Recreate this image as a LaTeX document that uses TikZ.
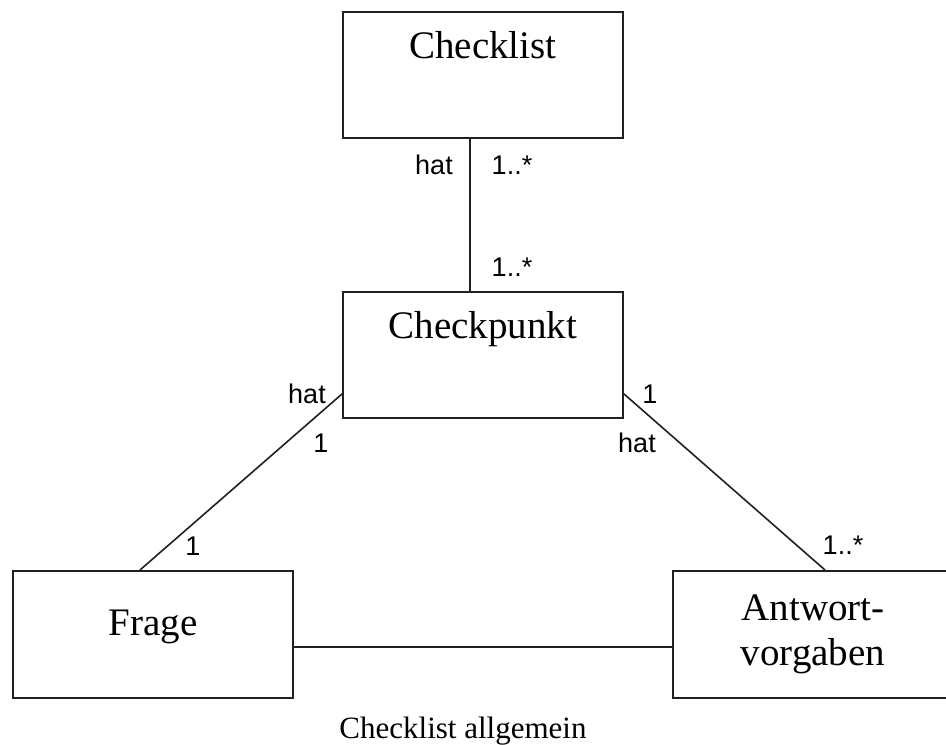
\documentclass[tikz,border=0pt]{standalone}
\usepackage{fontspec}
\setmainfont{Liberation Serif}
\newfontfamily\lblfont{Liberation Sans}
\usepackage{xcolor}
\definecolor{linec}{HTML}{202020}

\begin{document}
\begin{tikzpicture}[x=1pt, y=-1pt, line width=1.6pt,
  klasse/.style={draw=linec, minimum width=280pt, inner sep=0pt, font=\fontsize{39}{45}\selectfont},
  kopf/.style={text height=47pt, text depth=79pt},
  mult/.style={inner sep=0pt, font=\lblfont\fontsize{27}{30}\selectfont}]
  \useasboundingbox (0,0) rectangle (946,745);

  % classes
  \node[klasse, kopf, anchor=north] (checklist) at (483,11) {Checklist};
  \node[klasse, kopf, anchor=north] (checkpunkt) at (483,291) {Checkpunkt};
  \node[klasse, text height=65pt, text depth=62pt, anchor=north] (frage) at (153,570) {Frage};
  \node[klasse, minimum height=127pt, align=center, anchor=north] (antwort) at (813,570) {Antwort-\\vorgaben};

  % associations
  \draw[linec] ([xshift=-13pt]checklist.south) -- ([xshift=-13pt]checkpunkt.north);
  \draw[linec] ([yshift=-39pt]checkpunkt.west) -- ([xshift=-13pt]frage.north);
  \draw[linec] ([yshift=-39pt]checkpunkt.east) -- ([xshift=12pt]antwort.north);
  \draw[linec] ([yshift=-12.5pt]frage.east) -- ([yshift=-12.5pt]antwort.west);

  % multiplicities
  \node[mult] (h1) at (434,165) {hat};
  \node[mult] (m1) at (512,165) {1..*};
  \node[mult] (m2) at (512,267) {1..*};
  \node[mult] (h2) at (307,394) {hat};
  \node[mult] (m3) at (321,443) {1};
  \node[mult] (m4) at (193,546) {1};
  \node[mult] (m5) at (650,394) {1};
  \node[mult] (h3) at (637,443) {hat};
  \node[mult] (m6) at (843,545) {1..*};

  \node[anchor=base, font=\fontsize{31}{36}\selectfont] (titel) at (463,738) {Checklist allgemein};
\end{tikzpicture}
\end{document}
